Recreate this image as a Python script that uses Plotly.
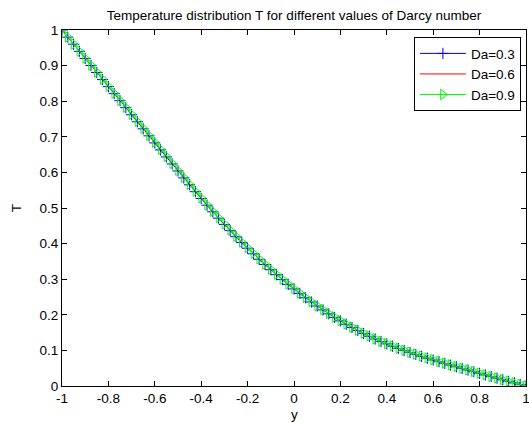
import plotly.graph_objects as go

# ---- data ----
y_pos = [-1.000, -0.975, -0.950, -0.925, -0.900, -0.875, -0.850, -0.825, -0.800,
         -0.775, -0.750, -0.725, -0.700, -0.675, -0.650, -0.625, -0.600,
         -0.575, -0.550, -0.525, -0.500, -0.475, -0.450, -0.425, -0.400,
         -0.375, -0.350, -0.325, -0.300, -0.275, -0.250, -0.225, -0.200,
         -0.175, -0.150, -0.125, -0.100, -0.075, -0.050, -0.025, 0.000,
         0.025, 0.050, 0.075, 0.100, 0.125, 0.150, 0.175, 0.200,
         0.225, 0.250, 0.275, 0.300, 0.325, 0.350, 0.375, 0.400,
         0.425, 0.450, 0.475, 0.500, 0.525, 0.550, 0.575, 0.600,
         0.625, 0.650, 0.675, 0.700, 0.725, 0.750, 0.775, 0.800,
         0.825, 0.850, 0.875, 0.900, 0.925, 0.950, 0.975, 1.000]

T_da03 = [1.0000, 0.9800, 0.9601, 0.9401, 0.9202,
          0.9004, 0.8806, 0.8607, 0.8409,
          0.8212, 0.8014, 0.7817, 0.7619,
          0.7422, 0.7224, 0.7027, 0.6829,
          0.6632, 0.6435, 0.6238, 0.6041,
          0.5845, 0.5651, 0.5459, 0.5268,
          0.5079, 0.4893, 0.4714, 0.4538,
          0.4364, 0.4193, 0.4030, 0.3870,
          0.3713, 0.3559, 0.3411, 0.3267,
          0.3126, 0.2989, 0.2856, 0.2727,
          0.2601, 0.2478, 0.2360, 0.2247,
          0.2136, 0.2028, 0.1926, 0.1829,
          0.1734, 0.1643, 0.1557, 0.1476,
          0.1397, 0.1321, 0.1250, 0.1183,
          0.1117, 0.1055, 0.0996, 0.0940,
          0.0886, 0.0833, 0.0781, 0.0730,
          0.0682, 0.0634, 0.0587, 0.0540,
          0.0494, 0.0447, 0.0401, 0.0355,
          0.0310, 0.0265, 0.0220, 0.0175,
          0.0131, 0.0087, 0.0044, 0.0000]

T_da06 = [1.0000, 0.9802, 0.9604, 0.9405, 0.9207,
          0.9009, 0.8812, 0.8613, 0.8416,
          0.8219, 0.8021, 0.7824, 0.7627,
          0.7430, 0.7232, 0.7035, 0.6838,
          0.6641, 0.6444, 0.6247, 0.6050,
          0.5854, 0.5660, 0.5468, 0.5277,
          0.5088, 0.4902, 0.4722, 0.4546,
          0.4372, 0.4201, 0.4038, 0.3878,
          0.3721, 0.3567, 0.3418, 0.3274,
          0.3133, 0.2996, 0.2863, 0.2734,
          0.2608, 0.2485, 0.2366, 0.2253,
          0.2142, 0.2034, 0.1932, 0.1835,
          0.1740, 0.1649, 0.1563, 0.1481,
          0.1402, 0.1326, 0.1255, 0.1188,
          0.1121, 0.1059, 0.1000, 0.0944,
          0.0890, 0.0837, 0.0785, 0.0734,
          0.0686, 0.0637, 0.0590, 0.0543,
          0.0497, 0.0450, 0.0404, 0.0358,
          0.0313, 0.0267, 0.0222, 0.0177,
          0.0133, 0.0088, 0.0045, 0.0000]

T_da09 = [1.0000, 0.9804, 0.9607, 0.9409, 0.9212,
          0.9014, 0.8817, 0.8619, 0.8422,
          0.8226, 0.8028, 0.7831, 0.7634,
          0.7437, 0.7240, 0.7043, 0.6846,
          0.6649, 0.6452, 0.6255, 0.6058,
          0.5862, 0.5668, 0.5476, 0.5285,
          0.5096, 0.4910, 0.4730, 0.4554,
          0.4380, 0.4209, 0.4045, 0.3885,
          0.3728, 0.3574, 0.3425, 0.3280,
          0.3139, 0.3002, 0.2869, 0.2740,
          0.2614, 0.2491, 0.2372, 0.2258,
          0.2147, 0.2039, 0.1937, 0.1840,
          0.1745, 0.1654, 0.1568, 0.1486,
          0.1406, 0.1330, 0.1259, 0.1192,
          0.1125, 0.1063, 0.1004, 0.0948,
          0.0894, 0.0841, 0.0789, 0.0738,
          0.0690, 0.0641, 0.0594, 0.0547,
          0.0500, 0.0453, 0.0407, 0.0361,
          0.0316, 0.0270, 0.0225, 0.0180,
          0.0135, 0.0090, 0.0046, 0.0000]

series_names = ["Da=0.3", "Da=0.6", "Da=0.9"]

x_tick_vals = [-1, -0.8, -0.6, -0.4, -0.2, 0, 0.2, 0.4, 0.6, 0.8, 1]
x_tick_text = ["-1", "-0.8", "-0.6", "-0.4", "-0.2", "0", "0.2", "0.4", "0.6", "0.8", "1"]
y_tick_vals = [0, 0.1, 0.2, 0.3, 0.4, 0.5, 0.6, 0.7, 0.8, 0.9, 1]
y_tick_text = ["0", "0.1", "0.2", "0.3", "0.4", "0.5", "0.6", "0.7", "0.8", "0.9", "1"]

FONT = "Liberation Sans, Arial, sans-serif"
FS = 13.5
W, H = 529, 423
M_L, M_R, M_T, M_B = 62, 3, 30, 37
PLOT_H = H - M_T - M_B

fig = go.Figure()
fig.add_trace(go.Scatter(
    x=y_pos, y=T_da03, name=series_names[0], mode="lines+markers",
    line=dict(color="rgb(0,0,255)", width=1),
    marker=dict(symbol="cross-thin-open", size=8,
                line=dict(color="rgb(0,0,255)", width=1))))
fig.add_trace(go.Scatter(
    x=y_pos, y=T_da06, name=series_names[1], mode="lines",
    line=dict(color="rgb(255,0,0)", width=1)))
fig.add_trace(go.Scatter(
    x=y_pos, y=T_da09, name=series_names[2], mode="lines+markers",
    line=dict(color="rgb(0,255,0)", width=1),
    marker=dict(symbol="triangle-right-open", size=9,
                line=dict(color="rgb(0,255,0)", width=1))))

axis_common = dict(
    showline=True, linecolor="black", linewidth=1, mirror="ticks",
    ticks="inside", ticklen=5, tickwidth=1, tickcolor="black",
    showgrid=False, zeroline=False,
    tickfont=dict(family=FONT, size=FS, color="black"),
    ticklabeloverflow="allow",
)

fig.update_layout(
    width=W, height=H,
    margin=dict(l=M_L, r=M_R, t=M_T, b=M_B),
    paper_bgcolor="white", plot_bgcolor="white",
    font=dict(family=FONT, size=FS, color="black"),
    title=dict(text="Temperature distribution T for different values of Darcy number",
               x=0.5, xref="paper", y=1 - 15 / H, yref="container",
               xanchor="center", yanchor="middle",
               font=dict(family=FONT, size=FS, color="black")),
    xaxis=dict(range=[-1, 1], tickvals=x_tick_vals, ticktext=x_tick_text,
               automargin=False, **axis_common),
    yaxis=dict(range=[0, 1], tickvals=y_tick_vals, ticktext=y_tick_text,
               title=dict(text="T", standoff=14, font=dict(family=FONT, size=FS)),
               automargin=False, **axis_common),
    legend=dict(x=0.989, y=0.98, xanchor="right", yanchor="top",
                bgcolor="white", bordercolor="black", borderwidth=1,
                font=dict(family=FONT, size=FS, color="black"),
                itemwidth=46, tracegroupgap=0),
    showlegend=True,
    hovermode=False,
)

# x-axis label "y" placed just under the tick labels
fig.add_annotation(text="y", xref="paper", yref="paper",
                   x=0.5, y=-(414 - (H - M_B)) / PLOT_H,
                   xanchor="center", yanchor="middle", showarrow=False,
                   font=dict(family=FONT, size=FS, color="black"))

# remove the browser's default 8px page margin so the figure sits at (0, 0)
fig.write_html("out.html",
               config={"displayModeBar": False, "staticPlot": True},
               post_script="document.body.style.margin='0';"
                           "document.body.style.overflow='hidden';")
